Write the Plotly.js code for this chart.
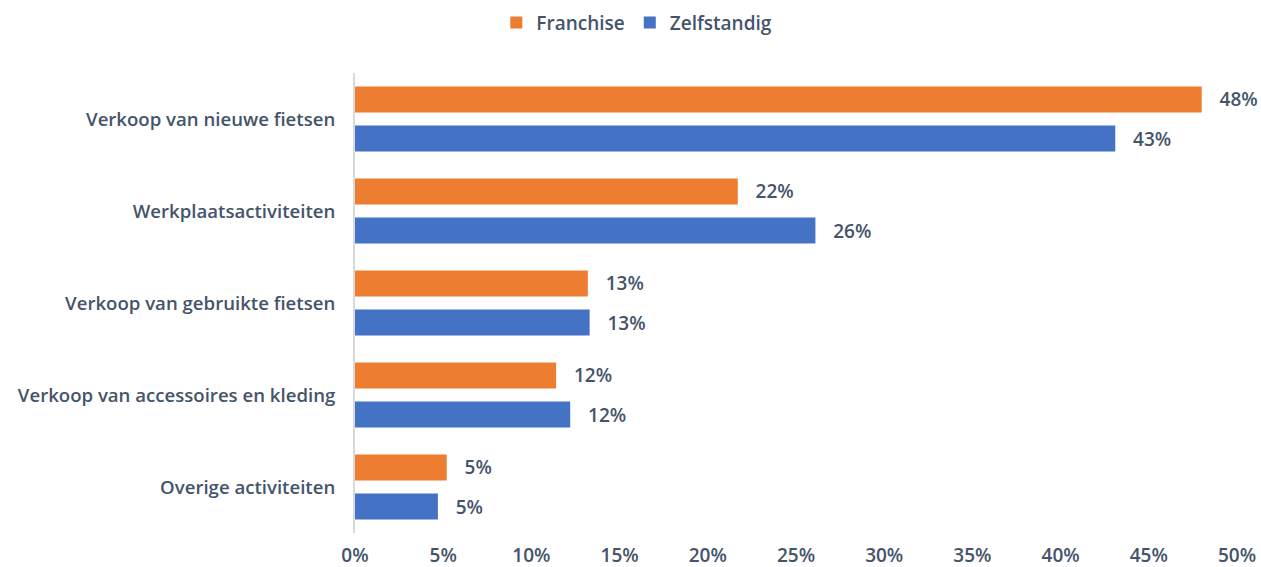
<!DOCTYPE html>
<html>
<head>
<meta charset="utf-8">
<script src="https://cdn.plot.ly/plotly-3.0.1.min.js"></script>
<style>html,body{margin:0;padding:0;background:#fff;}#chart{width:1261px;height:567px;}</style>
</head>
<body>
<div id="chart"></div>
<script>
const categories = [
  "Verkoop van nieuwe fietsen",
  "Werkplaatsactiviteiten",
  "Verkoop van gebruikte fietsen",
  "Verkoop van accessoires en kleding",
  "Overige activiteiten"
];
const franchise = [0.480, 0.217, 0.132, 0.114, 0.052];
const zelfstandig = [0.431, 0.261, 0.133, 0.122, 0.047];
const franchiseLabels = ["48%", "22%", "13%", "12%", "5%"];
const zelfstandigLabels = ["43%", "26%", "13%", "12%", "5%"];
const tickVals = [0, 0.05, 0.10, 0.15, 0.20, 0.25, 0.30, 0.35, 0.40, 0.45, 0.50];
const tickText = ["0%", "5%", "10%", "15%", "20%", "25%", "30%", "35%", "40%", "45%", "50%"];

const textColor = "#44546A";
const fontFamily = "'Open Sans', 'DejaVu Sans', sans-serif";
const fw = 600;

const traces = [
  {
    type: "bar", orientation: "h", name: "Franchise",
    y: categories, x: franchise, text: franchiseLabels,
    texttemplate: "   %{text}", textposition: "outside", cliponaxis: false,
    textfont: {color: textColor, size: 19, family: fontFamily, weight: fw},
    marker: {color: "#ED7D31"}, hoverinfo: "skip"
  },
  {
    type: "bar", orientation: "h", name: "Zelfstandig",
    y: categories, x: zelfstandig, text: zelfstandigLabels,
    texttemplate: "   %{text}", textposition: "outside", cliponaxis: false,
    textfont: {color: textColor, size: 19, family: fontFamily, weight: fw},
    marker: {color: "#4472C4"}, hoverinfo: "skip"
  }
];

const layout = {
  width: 1261, height: 567,
  margin: {l: 355, r: 24, t: 73, b: 34},
  paper_bgcolor: "#fff", plot_bgcolor: "#fff",
  font: {family: fontFamily, color: textColor, size: 18, weight: fw},
  barmode: "group", bargap: 0.15, bargroupgap: 0.333,
  showlegend: true,
  legend: {
    orientation: "h", xref: "container", yref: "container",
    x: 0.505, xanchor: "center", y: 0.96, yanchor: "middle",
    font: {size: 19, color: textColor, family: fontFamily, weight: fw},
    itemwidth: 30, tracegroupgap: 0
  },
  xaxis: {
    range: [0, 0.5], tickvals: tickVals, ticktext: tickText,
    showgrid: false, zeroline: false, showline: false, ticks: "",
    tickfont: {size: 19, color: textColor, family: fontFamily, weight: fw},
    ticklabelstandoff: 9, fixedrange: true
  },
  yaxis: {
    autorange: "reversed", showgrid: false, zeroline: false,
    showline: true, linecolor: "#D9D9D9", linewidth: 2, ticks: "",
    tickfont: {size: 18.6, color: textColor, family: fontFamily, weight: fw},
    ticklabelstandoff: 14, fixedrange: true
  }
};

Plotly.newPlot("chart", traces, layout, {displayModeBar: false, staticPlot: true});
</script>
</body>
</html>
